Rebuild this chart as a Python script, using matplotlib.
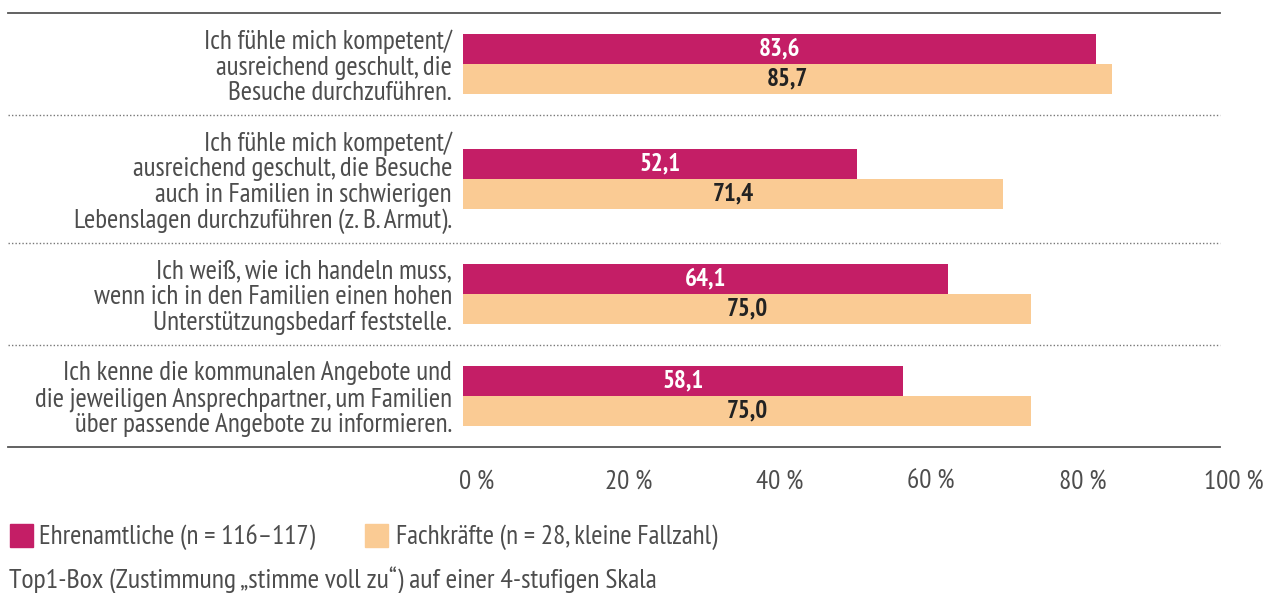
import numpy as np
import matplotlib
matplotlib.use('Agg')
import matplotlib.pyplot as plt
from matplotlib.patches import Rectangle
from matplotlib.transforms import ScaledTranslation
from matplotlib import font_manager

names = {f.name for f in font_manager.fontManager.ttflist}
prefs = ['PT Sans Narrow', 'Fira Sans Extra Condensed', 'Fira Sans Condensed',
         'Roboto Condensed', 'Open Sans Condensed', 'Liberation Sans Narrow']
FONT = next((p for p in prefs if p in names), 'DejaVu Sans')
plt.rcParams['font.family'] = [FONT, 'DejaVu Sans']

labels = [
    "Ich fühle mich kompetent/\nausreichend geschult, die\nBesuche durchzuführen.",
    "Ich fühle mich kompetent/\nausreichend geschult, die Besuche\nauch in Familien in schwierigen\nLebenslagen durchzuführen (z. B. Armut).",
    "Ich weiß, wie ich handeln muss,\nwenn ich in den Familien einen hohen\nUnterstützungsbedarf feststelle.",
    "Ich kenne die kommunalen Angebote und\ndie jeweiligen Ansprechpartner, um Familien\nüber passende Angebote zu informieren.",
]
ehrenamt = [83.6, 52.1, 64.1, 58.1]
fachkraft = [85.7, 71.4, 75.0, 75.0]
ticks = [0, 20, 40, 60, 80, 100]
legend_labels = ["Ehrenamtliche (n = 116–117)", "Fachkräfte (n = 28, kleine Fallzahl)"]
note = "Top1-Box (Zustimmung „stimme voll zu“) auf einer 4-stufigen Skala"

MAG = '#c41e66'
ORA = '#facb94'
GRAY = '#4d4d4d'
FS = 19.5

W, H = 1269, 593
fig = plt.figure(figsize=(W / 100, H / 100), dpi=100)
ax = fig.add_axes([463 / W, 1 - 447 / H, (1220 - 463) / W, (447 - 13) / H])

# group heights depend on number of label lines (pixel units)
nlines = [l.count('\n') + 1 for l in labels]
heights = [25 + 26 * n for n in nlines]
edges = np.concatenate([[0], np.cumsum(heights)])
centers = (edges[:-1] + edges[1:]) / 2
bh = 30.5

ax.barh(centers - bh / 2, ehrenamt, height=bh, color=MAG)
ax.barh(centers + bh / 2, fachkraft, height=bh, color=ORA)

for c, v1, v2 in zip(centers, ehrenamt, fachkraft):
    ax.text(v1 / 2, c - bh / 2, f"{v1:.1f}".replace('.', ','), ha='center', va='center',
            color='white', fontsize=18, fontweight='bold')
    ax.text(v2 / 2, c + bh / 2, f"{v2:.1f}".replace('.', ','), ha='center', va='center',
            color='#222222', fontsize=18, fontweight='bold')

ax.set_xlim(0, 100)
ax.set_ylim(edges[-1], 0)
for s in ax.spines.values():
    s.set_visible(False)
ax.set_yticks(centers)
ax.set_yticklabels(labels, fontsize=FS, color=GRAY, linespacing=1.08)
ax.tick_params(axis='y', length=0, pad=8)
ax.set_xticks(ticks)
ax.set_xticklabels([f"{t} %" for t in ticks], fontsize=FS, color=GRAY)
ax.tick_params(axis='x', length=0, pad=16)
shift = ScaledTranslation(14 / 100, 0, fig.dpi_scale_trans)
for lab in ax.get_xticklabels():
    lab.set_transform(lab.get_transform() + shift)

x0 = (8 - 463) / (1220 - 463)
for i, e in enumerate(edges):
    if i == 0 or i == len(edges) - 1:
        ax.plot([x0, 1], [e, e], transform=ax.get_yaxis_transform(), color='#555555',
                lw=1.3, clip_on=False)
    else:
        ax.plot([x0, 1], [e, e], transform=ax.get_yaxis_transform(), color='#777777',
                lw=1, ls=(0, (1, 1.5)), clip_on=False)

# legend
fig.patches.append(Rectangle((10 / W, 1 - 547 / H), 23 / W, 23 / H, transform=fig.transFigure,
                             color=MAG))
fig.text(39 / W, 1 - 537 / H, legend_labels[0], fontsize=FS, color=GRAY, va='center')
fig.patches.append(Rectangle((365 / W, 1 - 547 / H), 23 / W, 23 / H, transform=fig.transFigure,
                             color=ORA))
fig.text(396 / W, 1 - 537 / H, legend_labels[1], fontsize=FS, color=GRAY, va='center')
fig.text(9 / W, 1 - 580 / H, note, fontsize=20.2, color=GRAY, va='center')

fig.savefig('out.png', dpi=100)
